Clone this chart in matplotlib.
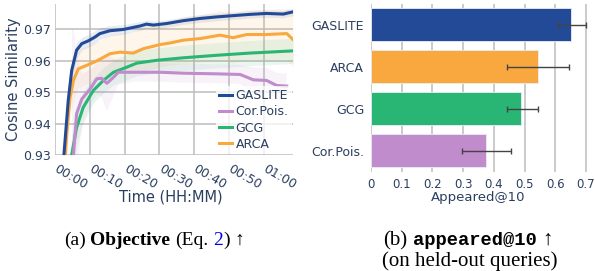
import numpy as np
import matplotlib
matplotlib.use('Agg')
import matplotlib.pyplot as plt

# ---- data ----
methods = ['GASLITE', 'Cor.Pois.', 'GCG', 'ARCA']
colors = {'GASLITE': '#234a97', 'Cor.Pois.': '#c08ccb', 'GCG': '#29b573', 'ARCA': '#f8a83e'}

# time in minutes, mean cosine similarity, std band
t_gaslite = [2.2, 3.8, 4.8, 6.2, 7.7, 9.6, 11.5, 12.9, 15.8, 19.6, 24.4, 26.3, 28.3, 32.1,
             36.9, 41.7, 46.5, 51.2, 56.0, 60.8, 65.6, 68.4]
y_gaslite = [0.925, 0.9473, 0.9569, 0.9633, 0.9654, 0.9663, 0.9675, 0.9686, 0.9695, 0.9699,
             0.9710, 0.9716, 0.9713, 0.9718, 0.9727, 0.9734, 0.9739, 0.9743, 0.9747, 0.9750,
             0.9748, 0.9755]
s_gaslite = [0.004, 0.004, 0.003, 0.0025, 0.002, 0.002, 0.002, 0.0018, 0.0016, 0.0015, 0.0014,
             0.0013, 0.0013, 0.0012, 0.0012, 0.0012, 0.0012, 0.0012, 0.0012, 0.0012, 0.0012, 0.0012]

t_arca = [2.7, 3.4, 4.3, 5.3, 6.7, 9.1, 12.0, 15.8, 18.7, 22.5, 25.4, 30.2, 33.0, 36.9, 41.7,
          47.4, 51.2, 55.1, 60.8, 66.6, 68.4]
y_arca = [0.925, 0.937, 0.948, 0.9537, 0.9574, 0.9585, 0.9599, 0.9622, 0.9627, 0.9624, 0.9638,
          0.9651, 0.9656, 0.9665, 0.9670, 0.9681, 0.9673, 0.9683, 0.9683, 0.9686, 0.9667]
s_arca = [0.006, 0.006, 0.006, 0.006, 0.006, 0.006, 0.006, 0.006, 0.006, 0.0065, 0.007, 0.007,
          0.007, 0.0075, 0.0075, 0.008, 0.008, 0.008, 0.008, 0.008, 0.009]

t_gcg = [4.2, 4.8, 6.2, 8.1, 11.0, 13.9, 16.8, 20.6, 23.5, 29.2, 36.9, 46.5, 56.0, 68.4]
y_gcg = [0.925, 0.930, 0.9387, 0.9451, 0.9505, 0.9537, 0.9563, 0.9579, 0.9592, 0.9601, 0.9609,
         0.9617, 0.9624, 0.9631]
s_gcg = [0.006, 0.006, 0.006, 0.005, 0.004, 0.004, 0.004, 0.004, 0.004, 0.004, 0.004, 0.004,
         0.004, 0.004]

t_corpois = [4.9, 5.3, 6.2, 7.7, 10.1, 12.0, 13.4, 14.9, 16.8, 18.2, 22.5, 30.2, 36.9, 46.5,
             53.2, 57.0, 60.8, 63.7, 66.6]
y_corpois = [0.925, 0.930, 0.9431, 0.9478, 0.9510, 0.9542, 0.9544, 0.9528, 0.9547, 0.9563,
             0.9563, 0.9563, 0.9560, 0.9558, 0.9556, 0.9539, 0.9537, 0.9521, 0.9519]
s_corpois = [0.045, 0.04, 0.02, 0.008, 0.006, 0.005, 0.006, 0.009, 0.006, 0.004, 0.003, 0.003,
             0.003, 0.003, 0.003, 0.004, 0.004, 0.004, 0.004]

time_ticks = [0, 10, 20, 30, 40, 50, 60]
time_labels = ['00:00', '00:10', '00:20', '00:30', '00:40', '00:50', '01:00']
sim_ticks = [0.93, 0.94, 0.95, 0.96, 0.97]

bar_methods = ['GASLITE', 'ARCA', 'GCG', 'Cor.Pois.']
bar_vals = [0.651, 0.543, 0.490, 0.373]
bar_lo = [0.608, 0.442, 0.442, 0.297]
bar_hi = [0.700, 0.646, 0.545, 0.456]
bar_ticks = [0, 0.1, 0.2, 0.3, 0.4, 0.5, 0.6, 0.7]
bar_labels = ['0', '0.1', '0.2', '0.3', '0.4', '0.5', '0.6', '0.7']

txt_col = '#2a3f5f'
grid_col = '#bdbdbd'

fig = plt.figure(figsize=(5.95, 2.71), dpi=100)

# ---- (a) objective over time ----
ax = fig.add_axes([55/595, 1-155/271, 238/595, 151/271])
series = [('ARCA', t_arca, y_arca, s_arca),
          ('GCG', t_gcg, y_gcg, s_gcg),
          ('Cor.Pois.', t_corpois, y_corpois, s_corpois),
          ('GASLITE', t_gaslite, y_gaslite, s_gaslite)]
handles = {}
for name, tt, yy, ss in series:
    tt = np.array(tt); yy = np.array(yy); ss = np.array(ss)
    ax.fill_between(tt, yy-ss, yy+ss, color=colors[name], alpha=0.1, lw=0, zorder=1)
for name, tt, yy, ss in series:
    h, = ax.plot(tt, yy, color=colors[name], lw=2.2, zorder=3, solid_joinstyle='round')
    handles[name] = h

ax.set_xlim(0, 68.4)
ax.set_ylim(0.93, 0.978)
ax.set_xticks(time_ticks)
ax.set_xticklabels(time_labels, rotation=-30, ha='left', va='center', rotation_mode='anchor')
ax.set_yticks(sim_ticks)
ax.set_yticklabels(['%.2f' % v for v in sim_ticks])
ax.tick_params(length=0, labelsize=9, colors=txt_col, pad=3)
ax.tick_params(axis='x', pad=9)
ax.grid(True, color=grid_col, lw=1.1, zorder=0)
ax.set_axisbelow(True)
for sp in ax.spines.values():
    sp.set_visible(False)

leg = ax.legend([handles[m] for m in methods], methods, loc='lower right',
                bbox_to_anchor=(1.0, 0.0), fontsize=9, handlelength=1.0, handletextpad=0.3,
                labelspacing=0.25, borderpad=0.3, frameon=True, framealpha=0.75,
                fancybox=False, edgecolor='none', borderaxespad=0.05)
for t in leg.get_texts():
    t.set_color(txt_col)

fig.text(14/595, 1-79/271, 'Cosine Similarity', rotation=90, ha='center', va='center',
         fontsize=10.5, color=txt_col)
fig.text(171/595, 1-197/271, 'Time (HH:MM)', ha='center', va='center',
         fontsize=10.5, color=txt_col)

# ---- (b) appeared@10 bars ----
bx = fig.add_axes([371/595, 1-171.5/271, 218/595, 168/271])
ypos = np.arange(len(bar_methods))
vals = np.array(bar_vals)
xerr = [vals - np.array(bar_lo), np.array(bar_hi) - vals]
bx.barh(ypos, vals, height=0.8, color=[colors[m] for m in bar_methods],
        edgecolor='#e8eef7', lw=0.6, zorder=2)
bx.errorbar(vals, ypos, xerr=xerr, fmt='none', ecolor='#444444', elinewidth=1.0,
            capsize=2.5, capthick=1.0, zorder=3)
bx.set_ylim(len(bar_methods)-0.5, -0.5)
bx.set_xlim(0, 0.71)
bx.set_yticks(ypos)
bx.set_yticklabels(bar_methods)
bx.set_xticks(bar_ticks)
bx.set_xticklabels(bar_labels)
bx.tick_params(length=0, colors=txt_col)
bx.tick_params(axis='y', labelsize=9, pad=5)
bx.tick_params(axis='x', labelsize=8.5, pad=5)
bx.grid(True, axis='x', color=grid_col, lw=1.1, zorder=0)
bx.set_axisbelow(True)
for sp in bx.spines.values():
    sp.set_visible(False)
fig.text(478/595, 1-197/271, 'Appeared@10', ha='center', va='center',
         fontsize=9.5, color=txt_col)

# ---- captions (mixed fonts) ----
serif = ['Liberation Serif', 'DejaVu Serif']
mono = ['Liberation Mono', 'DejaVu Sans Mono']


def rich_line(pieces, xc, yb, size):
    r = fig.canvas.get_renderer()
    objs = []
    for s, kw, gap in pieces:
        t = fig.text(0, yb, s, fontsize=kw.pop('size', size), va='baseline', ha='left', **kw)
        w = t.get_window_extent(r).width
        objs.append((t, w, gap * size * 100/72))
    total = sum(w + g for _, w, g in objs)
    x = xc * 595 - total / 2
    for t, w, g in objs:
        t.set_x(x / 595)
        x += w + g


cap = 15
rich_line([('(a)', dict(family=serif), 0.25),
           ('Objective', dict(family=serif, weight='bold'), 0.25),
           ('(Eq.', dict(family=serif), 0.25),
           ('2', dict(family=serif, color='#0000ee'), 0.0),
           (')', dict(family=serif), 0.25),
           ('\u2191', dict(family=serif), 0.0)], 154/595, 1-245/271, 14)
rich_line([('(b)', dict(family=serif), 0.25),
           ('appeared@10', dict(family=mono, weight='bold', size=13.5), 0.25),
           ('\u2191', dict(family=serif), 0.0)], 468/595, 1-245/271, cap)
fig.text(470/595, 1-266/271, '(on held-out queries)', family=serif, fontsize=cap,
         ha='center', va='baseline')

fig.savefig('out.png', dpi=100)
